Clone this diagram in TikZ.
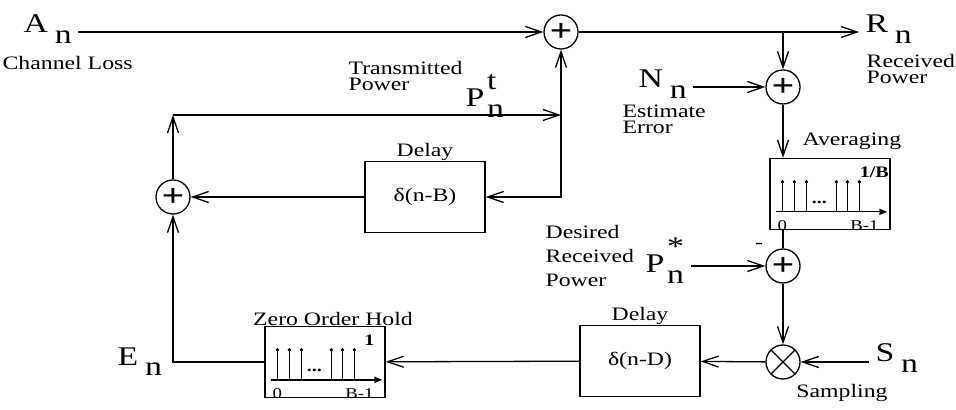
\documentclass[tikz,border=0pt]{standalone}
\usepackage{fontspec}
\setmainfont[FakeStretch=1.25]{Liberation Serif}
\usepackage{tikz}
\usetikzlibrary{arrows.meta}
\newcommand{\symsub}[2]{#1\kern0.25em\raisebox{-0.4em}{#2}}
\newcommand{\symsubsup}[3]{#1\kern0.1em\raisebox{-0.4em}{\rlap{\raisebox{1.05em}{#3}}#2}}
% impulse train drawn inside a box node
\newcommand{\stembox}[2]{%
  \begin{scope}[shift={(#1.north west)}]
    \draw[-{Triangle[length=4pt,width=3pt]}] (7,54) -- (118,54);
    \foreach \s in {13,25,37,67,78,90} {
      \draw (\s,54) -- (\s,24);
      \fill (\s,24) circle (0.9pt);
    }
    \node[ticklbl,anchor=base,font=\fontsize{8}{9}\selectfont\bfseries] (#1-dots) at (50,46) {...};
    \node[ticklbl,font=\fontsize{8}{9}\selectfont\bfseries] (#1-top) at (105,14) {#2};
    \node[ticklbl,anchor=base] (#1-zero) at (13,73) {0};
    \node[ticklbl,anchor=base] (#1-end) at (95,73) {B-1};
  \end{scope}}

\begin{document}
\begin{tikzpicture}[x=0.5pt,y=-0.5pt,line width=0.65pt,
  >={Straight Barb[length=8pt,width=5.5pt]},
  sumnode/.style={draw,circle,minimum size=17pt,inner sep=0pt,font=\fontsize{16}{16}\selectfont\bfseries},
  block/.style={draw,minimum width=60pt,minimum height=35.5pt,inner sep=0pt,font=\fontsize{9.5}{11}\selectfont},
  sym/.style={inner sep=3pt,anchor=base west,font=\fontsize{13.5}{15}\selectfont},
  lbl/.style={inner sep=0pt,font=\fontsize{9.5}{8}\selectfont},
  ticklbl/.style={inner sep=0pt,font=\fontsize{7.5}{8}\selectfont}]
  \useasboundingbox (0,0) rectangle (956,410);
  % summing points
  \node[sumnode] (sumA) at (561,32) {+};
  \node[sumnode] (sumN) at (783,87) {+};
  \node[sumnode] (sumP) at (783,266) {+};
  \node[sumnode] (sumE) at (173,197) {+};
  \node[draw,circle,minimum size=17pt,inner sep=0pt] (mul) at (783,362) {};
  \draw (mul.45) -- (mul.225) (mul.135) -- (mul.-45);
  % blocks
  \node[block] (delayB) at (425,197) {δ(n-B)};
  \node[block] (delayD) at (640,361) {δ(n-D)};
  \node[block] (avg) at (830,194) {};
  \node[block] (zoh) at (325,362) {};
  \stembox{avg}{1/B}
  \stembox{zoh}{1}
  % signals
  \node[sym] (An) at (17,33) {\symsub{A}{n}};
  \node[sym] (Rn) at (859,33) {\symsub{R}{n}};
  \node[sym] (Nn) at (632,88) {\symsub{N}{n}};
  \node[sym] (Pt) at (459,107) {\symsubsup{P}{n}{t}};
  \node[sym] (Pstar) at (639,273) {\symsubsup{P}{n}{*}};
  \node[sym] (Sn) at (869,362) {\symsub{S}{n}};
  \node[sym] (En) at (111,365) {\symsub{E}{n}};
  % labels
  \node[lbl,anchor=base west] (lblLoss) at (2,70) {Channel Loss};
  \node[lbl,anchor=north west,align=left] (lblTx) at (348,61) {Transmitted\\Power};
  \node[lbl,anchor=north west,align=left] (lblRecv) at (866,54) {Received\\Power};
  \node[lbl,anchor=north west,align=left] (lblEst) at (622,104) {Estimate\\Error};
  \node[lbl,anchor=base west] (lblAvg) at (802,146) {Averaging};
  \node[lbl,anchor=north west,align=left,font=\fontsize{9.5}{12}\selectfont] (lblDes) at (545,225) {Desired\\Received\\Power};
  \node[lbl] (minus) at (759,246) {-};
  \node[lbl,anchor=south] (lblDelB) at (delayB.north) {Delay};
  \node[lbl,anchor=south] (lblDelD) at (delayD.north) {Delay};
  \node[lbl,anchor=south,xshift=4pt] (lblZoh) at (zoh.north) {Zero Order Hold};
  \node[lbl] (lblSamp) at (842,393) {Sampling};
  % junctions
  \coordinate (jR) at (783,32);
  \coordinate (jT) at (561,115);
  \coordinate (jB) at (561,197);
  \coordinate (cE) at (173,115);
  % connections
  \draw[->] (An.east |- sumA) -- (sumA);
  \draw (sumA) -- (jR);
  \draw[->] (jR) -- (Rn.west |- jR);
  \draw[->] (jR) -- (sumN);
  \draw[->] (Nn.east |- sumN) -- (sumN);
  \draw[->] (sumN) -- (sumN |- avg.north);
  \draw (sumP |- avg.south) -- (sumP);
  \draw[->] (Pstar.east |- sumP) -- (sumP);
  \draw[->] (sumP) -- (mul);
  \draw[->] (Sn.west |- mul) -- (mul);
  \draw[->] (mul) -- (delayD);
  \draw[->] (delayD) -- (zoh);
  \draw[->] (zoh) -| (sumE);
  \draw[->] (sumE) -- (cE);
  \draw[->] (cE) -- (jT);
  \draw[->] (jT) -- (sumA);
  \draw[->] (jT) -- (jB) -- (delayB);
  \draw[->] (delayB) -- (sumE);
\end{tikzpicture}
\end{document}
